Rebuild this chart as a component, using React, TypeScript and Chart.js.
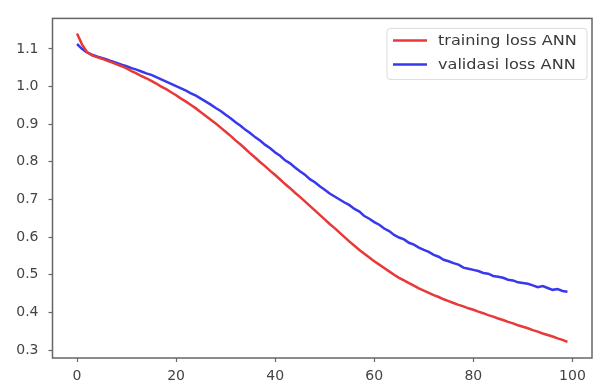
import React, { useEffect, useRef } from "react";
import { Chart, registerables } from "chart.js";

Chart.register(...registerables);

const trainingLoss = [
  1.141, 1.112, 1.092, 1.083, 1.078, 1.074, 1.069, 1.064, 1.059, 1.054,
  1.048, 1.041, 1.035, 1.028, 1.022, 1.015, 1.008, 1.000, 0.993, 0.985,
  0.977, 0.968, 0.960, 0.951, 0.942, 0.932, 0.922, 0.912, 0.902, 0.891,
  0.880, 0.869, 0.857, 0.846, 0.834, 0.822, 0.811, 0.799, 0.788, 0.776,
  0.765, 0.753, 0.741, 0.730, 0.718, 0.707, 0.695, 0.683, 0.671, 0.659,
  0.647, 0.635, 0.624, 0.612, 0.600, 0.588, 0.577, 0.566, 0.556, 0.546,
  0.536, 0.527, 0.518, 0.509, 0.500, 0.492, 0.485, 0.478, 0.471, 0.464,
  0.458, 0.452, 0.446, 0.441, 0.435, 0.430, 0.425, 0.420, 0.416, 0.411,
  0.407, 0.402, 0.398, 0.393, 0.389, 0.384, 0.380, 0.375, 0.371, 0.366,
  0.362, 0.358, 0.353, 0.349, 0.344, 0.340, 0.336, 0.331, 0.327, 0.322,
];

const validationLoss = [
  1.113, 1.100, 1.091, 1.085, 1.080, 1.076, 1.072, 1.067, 1.063, 1.058,
  1.054, 1.049, 1.045, 1.040, 1.035, 1.031, 1.025, 1.019, 1.013, 1.007,
  1.001, 0.995, 0.989, 0.982, 0.976, 0.968, 0.960, 0.952, 0.943, 0.935,
  0.925, 0.916, 0.905, 0.896, 0.885, 0.876, 0.865, 0.856, 0.845, 0.836,
  0.825, 0.816, 0.804, 0.796, 0.785, 0.775, 0.766, 0.754, 0.746, 0.735,
  0.726, 0.716, 0.708, 0.700, 0.692, 0.685, 0.675, 0.668, 0.656, 0.649,
  0.640, 0.633, 0.623, 0.616, 0.606, 0.599, 0.594, 0.585, 0.580, 0.572,
  0.566, 0.561, 0.553, 0.548, 0.540, 0.536, 0.531, 0.527, 0.519, 0.516,
  0.513, 0.510, 0.505, 0.503, 0.497, 0.495, 0.492, 0.487, 0.485, 0.480,
  0.478, 0.476, 0.472, 0.467, 0.470, 0.465, 0.460, 0.462, 0.457, 0.455,
];

const epochs = trainingLoss.map((_, i) => i);
const xTicks = [0, 20, 40, 60, 80, 100];
const yTicks = [0.3, 0.4, 0.5, 0.6, 0.7, 0.8, 0.9, 1.0, 1.1];
const seriesLabels = ["training loss ANN", "validasi loss ANN"];
const seriesColors = ["rgb(232,56,56)", "rgb(56,56,236)"];

const FONT = '"DejaVu Sans", sans-serif';
const STRETCH = 1.15;

const framePlugin = {
  id: "frame",
  afterDatasetsDraw(chart: any) {
    const { ctx, chartArea: a } = chart;
    ctx.save();
    ctx.strokeStyle = "#666";
    ctx.lineWidth = 1.5;
    ctx.strokeRect(a.left, a.top, a.right - a.left, a.bottom - a.top);
    ctx.restore();
  },
};

const legendPlugin = {
  id: "mplLegend",
  afterDraw(chart: any) {
    const { ctx, chartArea: a } = chart;
    const right = a.right - 5;
    const top = a.top + 10;
    const width = 200;
    const height = 51;
    const left = right - width;
    ctx.save();
    ctx.beginPath();
    const r = 3;
    ctx.moveTo(left + r, top);
    ctx.lineTo(right - r, top);
    ctx.quadraticCurveTo(right, top, right, top + r);
    ctx.lineTo(right, top + height - r);
    ctx.quadraticCurveTo(right, top + height, right - r, top + height);
    ctx.lineTo(left + r, top + height);
    ctx.quadraticCurveTo(left, top + height, left, top + height - r);
    ctx.lineTo(left, top + r);
    ctx.quadraticCurveTo(left, top, left + r, top);
    ctx.closePath();
    ctx.fillStyle = "rgba(255,255,255,0.85)";
    ctx.fill();
    ctx.strokeStyle = "#dcdcdc";
    ctx.lineWidth = 1;
    ctx.stroke();
    seriesLabels.forEach((label, i) => {
      const y = top + 12 + i * 24;
      ctx.beginPath();
      ctx.strokeStyle = seriesColors[i];
      ctx.lineWidth = 2.5;
      ctx.moveTo(left + 6, y);
      ctx.lineTo(left + 40, y);
      ctx.stroke();
      ctx.save();
      ctx.translate(left + 51, y);
      ctx.scale(STRETCH, 1);
      ctx.fillStyle = "#3a3a3a";
      ctx.font = `14px ${FONT}`;
      ctx.textBaseline = "middle";
      ctx.textAlign = "left";
      ctx.fillText(label, 0, 1);
      ctx.restore();
    });
    ctx.restore();
  },
};

export default function App() {
  const canvasRef = useRef<HTMLCanvasElement | null>(null);

  useEffect(() => {
    document.body.style.margin = "0";
    const canvas = canvasRef.current;
    if (!canvas) return;
    const chart = new Chart(canvas, {
      type: "line",
      data: {
        datasets: [
          {
            label: seriesLabels[0],
            data: epochs.map((x, i) => ({ x, y: trainingLoss[i] })),
            borderColor: seriesColors[0],
            borderWidth: 2.5,
            pointRadius: 0,
            tension: 0,
            fill: false,
          },
          {
            label: seriesLabels[1],
            data: epochs.map((x, i) => ({ x, y: validationLoss[i] })),
            borderColor: seriesColors[1],
            borderWidth: 2.5,
            pointRadius: 0,
            tension: 0,
            fill: false,
          },
        ],
      },
      options: {
        responsive: false,
        animation: false,
        devicePixelRatio: 1,
        layout: { padding: { top: 7, right: 4, left: 0, bottom: 0 } },
        plugins: {
          legend: { display: false },
          tooltip: { enabled: false },
        },
        scales: {
          x: {
            type: "linear",
            min: -4.95,
            max: 103.95,
            afterBuildTicks: (axis: any) => {
              axis.ticks = xTicks.map((v) => ({ value: v }));
            },
            afterFit: (s: any) => {
              s.height = 29;
            },
            grid: {
              display: true,
              drawOnChartArea: false,
              drawTicks: true,
              tickLength: 4,
              tickWidth: 1.2,
              tickColor: "#666",
            },
            border: { display: false },
            ticks: {
              padding: 6,
              color: "#444",
              font: { family: FONT, size: 14 },
              maxRotation: 0,
              autoSkip: false,
              callback: (v: any) => String(v),
            },
          },
          y: {
            type: "linear",
            min: 0.279,
            max: 1.181,
            afterBuildTicks: (axis: any) => {
              axis.ticks = yTicks.map((v) => ({ value: v }));
            },
            afterFit: (s: any) => {
              s.width = 52.5;
            },
            grid: {
              display: true,
              drawOnChartArea: false,
              drawTicks: true,
              tickLength: 4,
              tickWidth: 1.2,
              tickColor: "#666",
            },
            border: { display: false },
            ticks: {
              padding: 10,
              color: "#444",
              font: { family: FONT, size: 14 },
              autoSkip: false,
              callback: (v: any) => Number(v).toFixed(1),
            },
          },
        },
      },
      plugins: [framePlugin, legendPlugin],
    } as any);
    return () => chart.destroy();
  }, []);

  return <canvas ref={canvasRef} width={596} height={387} style={{ display: "block" }} />;
}
